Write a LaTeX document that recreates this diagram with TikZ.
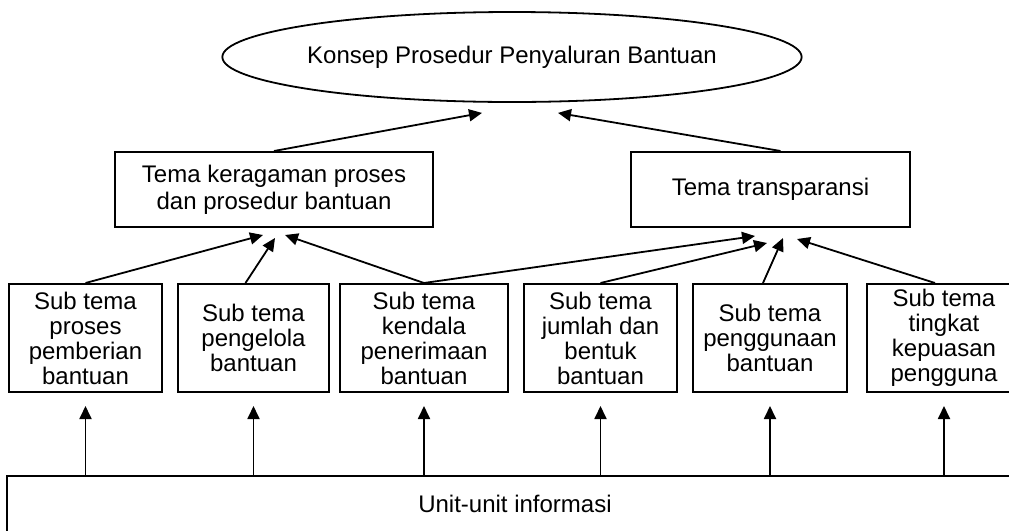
\documentclass[tikz,border=0pt]{standalone}
\usepackage{fontspec}
\setmainfont{Liberation Sans}
\usetikzlibrary{shapes.geometric,arrows.meta,calc}

\begin{document}
\begin{tikzpicture}[
    x=0.5pt, y=-0.5pt,
    konsep/.style={ellipse, draw=black, line width=0.9pt, inner sep=0pt,
                minimum width=279.5pt, minimum height=45pt,
                font=\fontsize{12}{13}\selectfont},
    tema/.style={rectangle, draw=black, line width=1pt, inner sep=0pt,
                minimum height=37.5pt, align=center,
                font=\fontsize{12}{13.3}\selectfont},
    subtema/.style={rectangle, draw=black, line width=1pt, inner sep=0pt,
                minimum height=54pt, align=center,
                font=\fontsize{12}{12.5}\selectfont},
    arr/.style={-{Triangle[length=6.5pt,width=6pt]}, line width=0.9pt}
]
\useasboundingbox (0,0) rectangle (1009,531);
\clip (0,0) rectangle (1009,531);

% Concept and themes
\node[konsep] (k) at (512,57) {Konsep Prosedur Penyaluran Bantuan};
\node[tema, minimum width=159pt]   (t1) at (274,189.5)   {Tema keragaman proses\\dan prosedur bantuan};
\node[tema, minimum width=139.5pt] (t2) at (770.5,189.5) {Tema transparansi};

% Sub themes
\node[subtema, minimum width=76.5pt] (s1) at (85.5,338)  {Sub tema\\proses\\pemberian\\bantuan};
\node[subtema, minimum width=75.5pt] (s2) at (253.5,338) {Sub tema\\pengelola\\bantuan};
\node[subtema, minimum width=84pt]   (s3) at (424,338)   {Sub tema\\kendala\\penerimaan\\bantuan};
\node[subtema, minimum width=76.5pt] (s4) at (600.5,338) {Sub tema\\jumlah dan\\bentuk\\bantuan};
\node[subtema, minimum width=77pt]   (s5) at (770,338)   {Sub tema\\penggunaan\\bantuan};
\node[subtema, minimum width=77pt]   (s6) at (944,338)   {Sub tema\\tingkat\\kepuasan\\pengguna};

% Information units
\node[rectangle, draw=black, line width=1pt, inner sep=0pt, anchor=north,
      minimum width=508pt, text height=18pt, text depth=20pt,
      font=\fontsize{12}{13}\selectfont] (info) at (515,475) {Unit-unit informasi};

% Themes to concept
\draw[arr] (t1.north)             -- ([xshift=-15pt,yshift=-5pt]k.south);
\draw[arr] ([xshift=5pt]t2.north) -- ([xshift=23pt,yshift=-5pt]k.south);

% Sub themes to themes
\draw[arr] (s1.north)                -- ([xshift=-5.5pt,yshift=-3.5pt]t1.south);
\draw[arr] ([xshift=-4pt]s2.north)   -- ([xshift=0.5pt,yshift=-5pt]t1.south);
\draw[arr] (s3.north)                -- ([xshift=5.5pt,yshift=-3.5pt]t1.south);
\draw[arr] (s3.north)                -- ([xshift=-7.75pt,yshift=-4pt]t2.south);
\draw[arr] (s4.north)                -- ([xshift=-1.75pt,yshift=-7.5pt]t2.south);
\draw[arr] ([xshift=-3.5pt]s5.north) -- ([xshift=6.25pt,yshift=-5pt]t2.south);
\draw[arr] ([xshift=-4.5pt]s6.north) -- ([xshift=13.25pt,yshift=-5.5pt]t2.south);

% Units to sub themes
\draw[arr] (s1.south |- info.north) -- ([yshift=-6.5pt]s1.south);
\draw[arr] (s2.south |- info.north) -- ([yshift=-6.5pt]s2.south);
\draw[arr] (s3.south |- info.north) -- ([yshift=-6.5pt]s3.south);
\draw[arr] (s4.south |- info.north) -- ([yshift=-6.5pt]s4.south);
\draw[arr] (s5.south |- info.north) -- ([yshift=-6.5pt]s5.south);
\draw[arr] (s6.south |- info.north) -- ([yshift=-6.5pt]s6.south);

\end{tikzpicture}
\end{document}
